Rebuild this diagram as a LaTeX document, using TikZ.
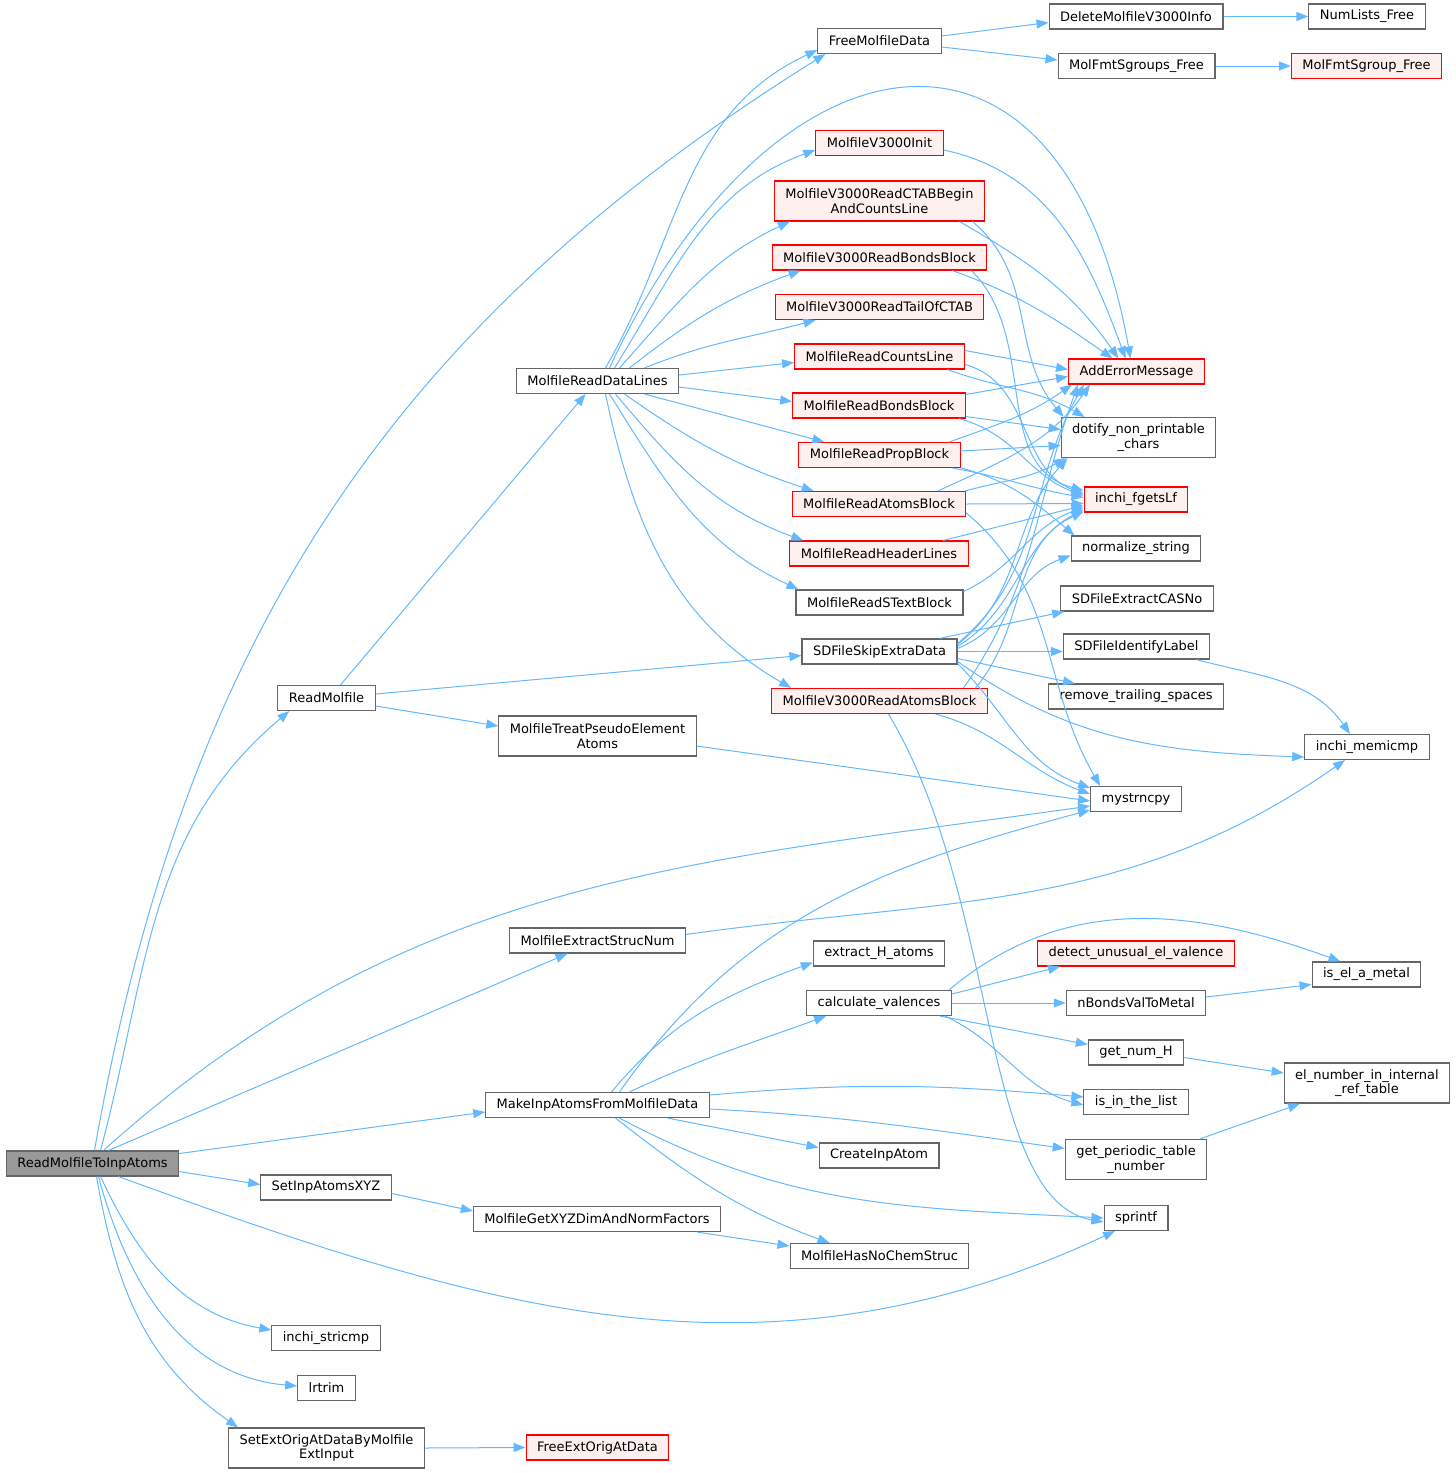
\documentclass[tikz,border=0pt]{standalone}
\usepackage{fontspec}
\setmainfont{DejaVu Sans}
\usetikzlibrary{arrows.meta}
\definecolor{edgeblue}{HTML}{63B8FF}
\definecolor{boxgrey}{HTML}{666666}
\definecolor{redfill}{HTML}{FFF0F0}
\definecolor{rootfill}{HTML}{999999}
\newcommand{\fnsize}{\fontsize{6.5}{7.25}\selectfont}
\tikzstyle{fn} = [draw=boxgrey,fill=white,line width=0.55pt,font=\fnsize,minimum height=12.5pt,inner xsep=5.5pt,inner ysep=1.5pt,align=center]
\tikzstyle{rfn} = [fn,draw=red,fill=redfill]
\tikzstyle{rootfn} = [fn,fill=rootfill]
\tikzstyle{tall} = [minimum height=20pt]
\tikzstyle{call} = [->,draw=edgeblue,line width=0.5pt]

\begin{document}
\begin{tikzpicture}[x=0.5pt,y=0.5pt,>={Triangle[length=6pt,width=4.5pt]}]
  \useasboundingbox (0,0) rectangle (1456,-1473);
  % Functions
  \node[rootfn] (root) at (92.5,-1163.5) {ReadMolfileToInpAtoms};
  \node[fn] (rdmol) at (326.5,-698) {ReadMolfile};
  \node[fn] (rddata) at (597.5,-381) {MolfileReadDataLines};
  \node[fn] (freedata) at (879.5,-41) {FreeMolfileData};
  \node[fn] (delv3) at (1136,-16.5) {DeleteMolfileV3000Info};
  \node[fn] (numfree) at (1367,-16.5) {NumLists\_Free};
  \node[fn] (sgrpsfree) at (1136.5,-66) {MolFmtSgroups\_Free};
  \node[rfn] (sgrpfree) at (1366.5,-66) {MolFmtSgroup\_Free};
  \node[rfn] (v3init) at (879.5,-143) {MolfileV3000Init};
  \node[rfn,tall] (v3ctab) at (879.5,-201) {MolfileV3000ReadCTABBegin\\AndCountsLine};
  \node[rfn] (v3bonds) at (879.5,-257.5) {MolfileV3000ReadBondsBlock};
  \node[rfn] (v3tail) at (879.5,-307) {MolfileV3000ReadTailOfCTAB};
  \node[rfn] (rdcounts) at (879.5,-356.5) {MolfileReadCountsLine};
  \node[rfn] (adderr) at (1136.5,-371.5) {AddErrorMessage};
  \node[rfn] (rdbonds) at (879,-405.5) {MolfileReadBondsBlock};
  \node[fn,tall] (dotify) at (1138.5,-437.5) {dotify\_non\_printable\\\_chars};
  \node[rfn] (rdprop) at (879.5,-455) {MolfileReadPropBlock};
  \node[rfn] (rdatoms) at (879,-504) {MolfileReadAtomsBlock};
  \node[rfn] (fgets) at (1136,-499.5) {inchi\_fgetsLf};
  \node[fn] (normstr) at (1136,-548.5) {normalize\_string};
  \node[rfn] (rdheader) at (879,-553.5) {MolfileReadHeaderLines};
  \node[fn] (rdstext) at (879.5,-602.5) {MolfileReadSTextBlock};
  \node[fn] (casno) at (1137,-598.5) {SDFileExtractCASNo};
  \node[fn] (skipextra) at (879.5,-651.5) {SDFileSkipExtraData};
  \node[fn] (idlabel) at (1136.5,-646.5) {SDFileIdentifyLabel};
  \node[fn] (trailsp) at (1136,-696.5) {remove\_trailing\_spaces};
  \node[rfn] (v3atoms) at (879.5,-701) {MolfileV3000ReadAtomsBlock};
  \node[fn,tall] (pseudo) at (597.5,-736) {MolfileTreatPseudoElement\\Atoms};
  \node[fn] (memicmp) at (1367,-747) {inchi\_memicmp};
  \node[fn] (strncpy) at (1136,-799) {mystrncpy};
  \node[fn] (strucnum) at (597.5,-940.5) {MolfileExtractStrucNum};
  \node[fn] (extracth) at (879,-953.5) {extract\_H\_atoms};
  \node[rfn] (unusual) at (1136,-953.5) {detect\_unusual\_el\_valence};
  \node[fn] (ismetal) at (1366.5,-974.5) {is\_el\_a\_metal};
  \node[fn] (valences) at (879,-1003) {calculate\_valences};
  \node[fn] (bondsval) at (1136,-1003) {nBondsValToMetal};
  \node[fn] (numh) at (1136,-1052.5) {get\_num\_H};
  \node[fn,tall] (elnumber) at (1367,-1083) {el\_number\_in\_internal\\\_ref\_table};
  \node[fn] (mkatoms) at (597.5,-1105) {MakeInpAtomsFromMolfileData};
  \node[fn] (inlist) at (1136,-1102) {is\_in\_the\_list};
  \node[fn,tall] (periodic) at (1136,-1159.5) {get\_periodic\_table\\\_number};
  \node[fn] (createatom) at (879,-1155.5) {CreateInpAtom};
  \node[fn] (setxyz) at (326,-1187.5) {SetInpAtomsXYZ};
  \node[fn] (xyzdim) at (597,-1219) {MolfileGetXYZDimAndNormFactors};
  \node[fn] (sprintf) at (1136,-1218) {sprintf};
  \node[fn] (nochem) at (879.5,-1256) {MolfileHasNoChemStruc};
  \node[fn] (stricmp) at (326,-1338) {inchi\_stricmp};
  \node[fn] (lrtrim) at (326.5,-1388) {lrtrim};
  \node[fn,tall] (extorig) at (326.5,-1448) {SetExtOrigAtDataByMolfile\\ExtInput};
  \node[rfn] (freeext) at (597.5,-1447.5) {FreeExtOrigAtData};
  % Calls from ReadMolfileToInpAtoms
  \draw[call] ([xshift=1pt]root.north) to[out=80,in=212] ([xshift=4pt]freedata.south west);
  \draw[call] ([xshift=4pt]root.north) to[out=75,in=220] ([xshift=6pt]rdmol.south west);
  \draw[call] ([xshift=5.5pt]root.north) to[out=42,in=188] ([yshift=-3.5pt]strncpy.west);
  \draw[call] ([xshift=8pt]root.north) -- ([xshift=-15pt]strucnum.south);
  \draw[call] ([yshift=5pt]root.east) -- ([yshift=-3.5pt]mkatoms.west);
  \draw[call] ([yshift=-4pt]root.east) -- ([yshift=1.5pt]setxyz.west);
  \draw[call] ([xshift=13pt]root.south) to[out=-20,in=205] ([xshift=-10.5pt]sprintf.south);
  \draw[call] ([xshift=4pt]root.south) to[out=-65,in=170] ([yshift=4pt]stricmp.west);
  \draw[call] ([xshift=3pt]root.south) to[out=-75,in=175] ([yshift=1pt]lrtrim.west);
  \draw[call] ([xshift=2pt]root.south) to[out=-80,in=145] ([xshift=5pt]extorig.north west);
  % ReadMolfile
  \draw[call] ([xshift=7pt]rdmol.north) -- ([xshift=-6pt]rddata.south);
  \draw[call] ([yshift=2pt]rdmol.east) -- ([yshift=-2pt]skipextra.west);
  \draw[call] ([yshift=-4pt]rdmol.east) -- ([yshift=5pt]pseudo.west);
  % MolfileReadDataLines
  \draw[call] ([xshift=4pt]rddata.north) to[out=60,in=205] ([yshift=-4.5pt]freedata.west);
  \draw[call] ([xshift=6pt]rddata.north) to[out=65,in=100,looseness=1.9] ([xshift=-3pt]adderr.north);
  \draw[call] ([xshift=8.5pt]rddata.north) to[out=58,in=200] ([yshift=-3.5pt]v3init.west);
  \draw[call] ([xshift=11pt]rddata.north) to[out=48,in=205] ([xshift=8pt]v3ctab.south west);
  \draw[call] ([xshift=16pt]rddata.north) to[out=38,in=200] ([xshift=14.5pt]v3bonds.south west);
  \draw[call] ([xshift=23.5pt]rddata.north) to[out=22,in=195] ([xshift=20.5pt]v3tail.south west);
  \draw[call] ([yshift=3pt]rddata.east) -- ([yshift=-3pt]rdcounts.west);
  \draw[call] ([yshift=-3pt]rddata.east) -- ([yshift=2pt]rdbonds.west);
  \draw[call] ([xshift=23.5pt]rddata.south) -- ([xshift=13pt]rdprop.north west);
  \draw[call] ([xshift=13.5pt]rddata.south) to[out=-35,in=162] ([xshift=11pt]rdatoms.north west);
  \draw[call] ([xshift=9pt]rddata.south) to[out=-50,in=160] ([xshift=7pt]rdheader.north west);
  \draw[call] ([xshift=6pt]rddata.south) to[out=-58,in=155] ([xshift=1.5pt]rdstext.north west);
  \draw[call] ([xshift=4pt]rddata.south) to[out=-78,in=150] ([xshift=10pt]v3atoms.north west);
  % FreeMolfileData
  \draw[call] ([yshift=2.5pt]freedata.east) -- ([yshift=-3pt]delv3.west);
  \draw[call] ([yshift=-3pt]freedata.east) -- ([yshift=3pt]sgrpsfree.west);
  \draw[call] (delv3.east) -- (numfree.west);
  \draw[call] (sgrpsfree.east) -- (sgrpfree.west);
  % V3000 readers
  \draw[call] ([yshift=-3.5pt]v3init.east) to[out=-12,in=110] ([xshift=-5.5pt]adderr.north);
  \draw[call] ([xshift=40pt]v3ctab.south) to[out=-30,in=125] ([xshift=-9pt]adderr.north);
  \draw[call] ([xshift=46.5pt]v3ctab.south) to[out=-40,in=130] ([xshift=1.5pt]dotify.north west);
  \draw[call] ([xshift=36.5pt]v3bonds.south) to[out=-20,in=145] ([xshift=-12pt]adderr.north);
  \draw[call] ([xshift=46pt]v3bonds.south) to[out=-45,in=165] ([yshift=4.5pt]fgets.west);
  % V2000 readers
  \draw[call] ([yshift=3pt]rdcounts.east) -- ([yshift=1pt]adderr.west);
  \draw[call] ([xshift=34pt]rdcounts.south) to[out=-20,in=150] ([xshift=12pt]dotify.north west);
  \draw[call] ([yshift=-4pt]rdcounts.east) to[out=-15,in=160] ([yshift=3pt]fgets.west);
  \draw[call] ([yshift=5.5pt]rdbonds.east) -- ([yshift=-2.5pt]adderr.west);
  \draw[call] ([yshift=-5.5pt]rdbonds.east) -- ([yshift=4pt]dotify.west);
  \draw[call] ([xshift=40pt]rdbonds.south) to[out=-15,in=160] ([yshift=2pt]fgets.west);
  \draw[call] ([xshift=35pt]rdprop.north) to[out=20,in=215] ([xshift=2pt]adderr.south west);
  \draw[call] ([yshift=2pt]rdprop.east) -- ([yshift=-4pt]dotify.west);
  \draw[call] ([xshift=36.5pt]rdprop.south) to[out=-10,in=170] ([yshift=1pt]fgets.west);
  \draw[call] ([xshift=41pt]rdprop.south) to[out=-15,in=140] ([xshift=2pt]normstr.north west);
  \draw[call] ([xshift=29.5pt]rdatoms.north) to[out=25,in=235] ([xshift=11pt]adderr.south west);
  \draw[call] ([xshift=43pt]rdatoms.north) to[out=15,in=210] ([xshift=2.5pt]dotify.south west);
  \draw[call] (rdatoms.east) -- ([yshift=-2pt]fgets.west);
  \draw[call] ([yshift=-4.5pt]rdatoms.east) to[out=-40,in=120] ([xshift=5pt]strncpy.north west);
  \draw[call] ([xshift=32pt]rdheader.north) -- ([yshift=-3pt]fgets.west);
  \draw[call] ([yshift=5.5pt]rdstext.east) to[out=25,in=200] ([yshift=-4pt]fgets.west);
  % SDFileSkipExtraData
  \draw[call] ([yshift=4pt]skipextra.east) to[out=40,in=240] ([xshift=8pt]adderr.south west);
  \draw[call] ([yshift=3.5pt]skipextra.east) to[out=38,in=228] ([xshift=3.5pt]dotify.south west);
  \draw[call] ([yshift=2.5pt]skipextra.east) to[out=32,in=208] ([yshift=-5pt]fgets.west);
  \draw[call] ([yshift=1.5pt]skipextra.east) to[out=22,in=200] ([yshift=-3.5pt]normstr.west);
  \draw[call] ([xshift=30pt]skipextra.north) -- ([xshift=2pt]casno.south west);
  \draw[call] (skipextra.east) -- ([yshift=-2.5pt]idlabel.west);
  \draw[call] ([yshift=-3.5pt]skipextra.east) -- ([xshift=13.5pt]trailsp.north west);
  \draw[call] ([yshift=-5pt]skipextra.east) to[out=-35,in=178] ([yshift=-5pt]memicmp.west);
  \draw[call] ([yshift=-6pt]skipextra.east) to[out=-45,in=160] ([yshift=-1pt]strncpy.north west);
  % MolfileV3000ReadAtomsBlock
  \draw[call] ([xshift=42pt]v3atoms.north) to[out=55,in=250] ([xshift=5pt]adderr.south west);
  \draw[call] ([xshift=48pt]v3atoms.north) to[out=50,in=205] ([yshift=-6pt]fgets.west);
  \draw[call] ([xshift=28pt]v3atoms.south) to[out=-15,in=160] ([yshift=-4pt]strncpy.north west);
  \draw[call] ([xshift=4.5pt]v3atoms.south) .. controls +(112,-187) and +(-124,22) .. ([yshift=-2pt]sprintf.west);
  % Others
  \draw[call] ([yshift=-5pt]pseudo.east) -- ([yshift=-1pt]strncpy.west);
  \draw[call] ([yshift=3pt]strucnum.east) to[out=8,in=215] ([xshift=-11pt]memicmp.south);
  \draw[call] ([xshift=30pt]idlabel.south) to[out=-15,in=125] ([xshift=-8.5pt]memicmp.north);
  % MakeInpAtomsFromMolfileData
  \draw[call] ([xshift=11pt]mkatoms.north) to[out=55,in=195] ([yshift=-5.5pt]strncpy.west);
  \draw[call] ([xshift=7pt]mkatoms.north) to[out=50,in=200] ([yshift=-4.5pt]extracth.west);
  \draw[call] ([xshift=16pt]mkatoms.north) to[out=25,in=200] ([xshift=10pt]valences.south west);
  \draw[call] ([yshift=5pt]mkatoms.east) to[out=5,in=175] ([yshift=2.5pt]inlist.west);
  \draw[call] ([yshift=-2pt]mkatoms.east) to[out=-3,in=172] ([yshift=5.5pt]periodic.west);
  \draw[call] ([xshift=35pt]mkatoms.south) -- ([yshift=4pt]createatom.west);
  \draw[call] ([xshift=11pt]mkatoms.south) to[out=-28,in=177] (sprintf.west);
  \draw[call] ([xshift=9pt]mkatoms.south) to[out=-38,in=160] ([xshift=20pt]nochem.north west);
  % calculate_valences
  \draw[call] ([xshift=35pt]valences.north) to[out=40,in=160] ([xshift=-13pt]ismetal.north);
  \draw[call] ([yshift=4.5pt]valences.east) -- ([xshift=11.5pt]unusual.south west);
  \draw[call] (valences.east) -- (bondsval.west);
  \draw[call] ([xshift=30.5pt]valences.south) -- ([yshift=4pt]numh.west);
  \draw[call] ([xshift=33pt]valences.south) to[out=-25,in=165] ([yshift=-1.5pt]inlist.west);
  \draw[call] ([yshift=3pt]bondsval.east) -- ([yshift=-5pt]ismetal.west);
  \draw[call] ([yshift=-2.5pt]numh.east) -- ([yshift=5pt]elnumber.west);
  \draw[call] ([xshift=32pt]periodic.north) to[out=20,in=200] ([xshift=-33.5pt]elnumber.south);
  % Coordinates and ext data
  \draw[call] ([yshift=-3pt]setxyz.east) -- ([yshift=4pt]xyzdim.west);
  \draw[call] ([xshift=50pt]xyzdim.south) -- ([yshift=5pt]nochem.west);
  \draw[call] (extorig.east) -- (freeext.west);
\end{tikzpicture}
\end{document}
